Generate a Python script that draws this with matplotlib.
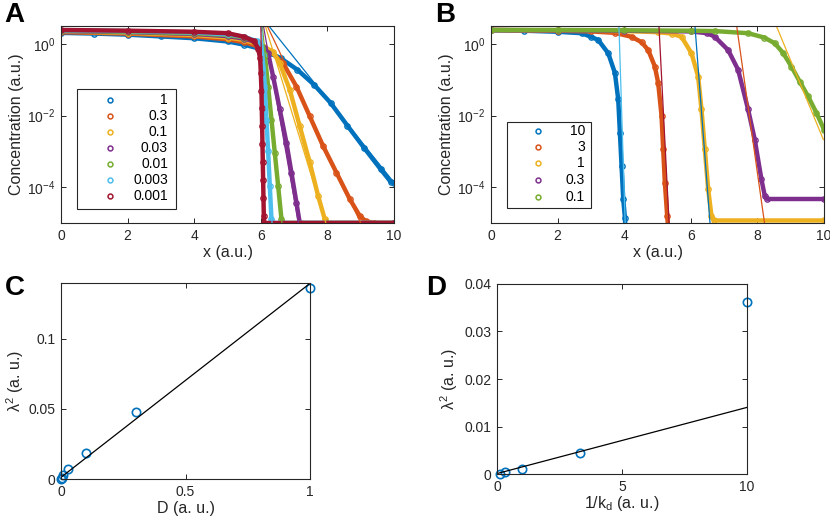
import numpy as np
import matplotlib
matplotlib.use('Agg')
import matplotlib.pyplot as plt
from matplotlib.ticker import NullLocator
from matplotlib.patches import Rectangle

plt.rcParams['font.family'] = ['Liberation Sans', 'DejaVu Sans']
plt.rcParams['mathtext.fontset'] = 'custom'
plt.rcParams['mathtext.rm'] = 'Liberation Sans'
plt.rcParams['mathtext.it'] = 'Liberation Sans:italic'

# colores tipo MATLAB
c_azul = '#0072BD'
c_naranja = '#D95319'
c_amarillo = '#EDB120'
c_morado = '#7E2F8E'
c_verde = '#77AC30'
c_celeste = '#4DBEEE'
c_rojo = '#A2142F'
gris = '#262626'

# ---------------- datos panel A (x, log10 concentracion) ----------------
etiquetasA = ['1', '0.3', '0.1', '0.03', '0.01', '0.003', '0.001']
coloresA = [c_azul, c_naranja, c_amarillo, c_morado, c_verde, c_celeste, c_rojo]

xA1 = [0, 1, 2, 3, 4, 5, 5.5, 6.0, 6.3, 6.6, 7.1, 7.6, 8.1, 8.6, 9.1, 9.6, 9.9, 10]
yA1 = [0.31, 0.29, 0.26, 0.21, 0.16, 0.07, -0.02, -0.14, -0.26, -0.40, -0.72, -1.14,
       -1.65, -2.28, -2.90, -3.50, -3.85, -3.88]
xA2 = [0, 2, 4, 5, 5.5, 5.9, 6.1, 6.27, 6.67, 7.07, 7.47, 7.87, 8.27, 8.67, 8.97, 9.15, 9.4, 10]
yA2 = [0.33, 0.29, 0.21, 0.13, 0.05, -0.06, -0.12, -0.19, -0.54, -1.19, -2.02, -2.85,
       -3.59, -4.33, -4.80, -4.95, -5, -5]
xA3 = [0, 2, 4, 5, 5.5, 5.9, 6.1, 6.37, 6.57, 6.87, 7.17, 7.47, 7.72, 7.92, 8.0, 10]
yA3 = [0.35, 0.31, 0.25, 0.18, 0.11, 0.0, -0.08, -0.22, -0.54, -1.28, -2.30, -3.31,
       -4.24, -4.89, -5, -5]
xA4 = [0, 2, 4, 5, 5.5, 5.9, 6.1, 6.22, 6.37, 6.57, 6.77, 6.92, 7.07, 7.17, 10]
yA4 = [0.36, 0.33, 0.28, 0.22, 0.15, 0.04, -0.10, -0.26, -0.91, -1.83, -2.76, -3.59,
       -4.43, -5, -5]
xA5 = [0, 2, 4, 5, 5.5, 5.9, 6.05, 6.12, 6.22, 6.32, 6.42, 6.52, 6.62, 6.67, 10]
yA5 = [0.37, 0.34, 0.30, 0.25, 0.18, 0.06, -0.10, -0.30, -1.19, -2.11, -3.04, -3.96,
       -4.89, -5, -5]
xA6 = [0, 2, 4, 5, 5.5, 5.9, 6.0, 6.07, 6.12, 6.17, 6.22, 6.27, 6.32, 6.35, 10]
yA6 = [0.38, 0.36, 0.32, 0.27, 0.20, 0.07, -0.05, -0.3, -1.2, -2.11, -3.0, -3.96,
       -4.89, -5, -5]
xA7 = [0, 2, 4, 5, 5.5, 5.8, 5.92, 5.98, 6.0, 6.02, 6.03, 6.04, 6.05, 6.06, 6.07,
       6.08, 6.09, 6.1, 10]
yA7 = [0.39, 0.37, 0.34, 0.30, 0.20, 0.08, -0.13, -0.4, -0.8, -1.3, -1.8, -2.3, -2.8,
       -3.3, -3.8, -4.3, -4.8, -5, -5]

# rectas de ajuste panel A: (x inicio, x fin), (log y inicio, log y fin)
ajA_x = [(6.2, 10), (6.17, 9.05), (6.12, 7.97), (6.07, 7.14), (6.04, 6.64),
         (6.02, 6.34), (6.0, 6.11)]
ajA_y = [(0.55, -3.87), (0.55, -5.1), (0.55, -5.05), (0.55, -5.05), (0.55, -5.05),
         (0.55, -5.05), (0.55, -5.05)]

# ---------------- datos panel B ----------------
etiquetasB = ['10', '3', '1', '0.3', '0.1']
coloresB = [c_azul, c_naranja, c_amarillo, c_morado, c_verde]
coloresAjB = [c_celeste, c_rojo, c_azul, c_naranja, c_amarillo]

xB1 = [0, 1, 2, 2.72, 3.0, 3.22, 3.52, 3.72, 3.82, 3.87, 3.92, 3.97, 4.02, 4.06]
yB1 = [0.38, 0.37, 0.34, 0.30, 0.2, 0.11, -0.26, -0.81, -1.55, -2.48, -3.41, -4.33,
       -4.85, -5.5]
xB2 = [0, 2, 3, 3.72, 4.22, 4.52, 4.72, 4.92, 5.02, 5.12, 5.17, 5.22, 5.29, 5.35]
yB2 = [0.39, 0.37, 0.35, 0.31, 0.20, 0.05, -0.17, -0.63, -1.09, -2.0, -2.94, -3.87,
       -4.8, -5.5]
xB3 = [0, 2, 4, 5, 5.42, 5.72, 6.02, 6.22, 6.32, 6.42, 6.52, 6.62, 6.7, 10]
yB3 = [0.39, 0.38, 0.36, 0.33, 0.29, 0.2, -0.26, -0.91, -1.83, -2.94, -4.05, -4.8,
       -4.93, -4.93]
xB4 = [0, 2, 4, 6, 6.5, 6.72, 7.12, 7.42, 7.72, 7.92, 8.12, 8.22, 8.3, 10]
yB4 = [0.39, 0.38, 0.37, 0.35, 0.30, 0.2, -0.17, -0.72, -1.83, -2.67, -3.78, -4.24,
       -4.33, -4.33]
xB5 = [0, 2, 4, 6, 6.72, 7.72, 8.2, 8.52, 8.77, 9.02, 9.27, 9.52, 9.77, 10]
yB5 = [0.39, 0.39, 0.38, 0.37, 0.36, 0.30, 0.18, 0.02, -0.25, -0.63, -1.05, -1.46,
       -1.92, -2.39]

ajB_x = [(3.84, 4.03), (5.04, 5.35), (6.12, 6.58), (7.37, 8.22), (8.57, 9.98)]
ajB_y = [(0.55, -5.05), (0.55, -5.05), (0.55, -5.05), (0.55, -5.05), (0.5, -2.67)]

# ---------------- datos panel C ----------------
D_vals = [1, 0.3, 0.1, 0.03, 0.01, 0.003, 0.001]
lam2_C = [0.1363, 0.0475, 0.0188, 0.0069, 0.0030, 0.0010, 0.0003]
ajC_x = [0, 1]
ajC_y = [0.0012, 0.1395]

# ---------------- datos panel D ----------------
inv_kd = [10, 3.333, 1, 0.333, 0.1]
lam2_D = [0.0363, 0.00449, 0.00098, 0.00035, 0.0001]
ajD_x = [0, 10]
ajD_y = [0.0001, 0.0140]

fs_tick = 10
fs_lab = 11.5
fs_ley = 10


def EstiloEjes(ax):
    for s in ax.spines.values():
        s.set_color(gris)
        s.set_linewidth(0.8)
    ax.tick_params(direction='in', top=True, right=True, length=3.5, width=0.7,
                   colors=gris, labelsize=fs_tick, labelcolor=gris, pad=4)
    ax.tick_params(which='minor', length=0)


def LeyendaManual(ax, etiquetas, colores, caja, xm, xt, ys):
    rect = Rectangle((caja[0], caja[1]), caja[2] - caja[0], caja[3] - caja[1],
                     transform=ax.transAxes, facecolor='white', edgecolor=gris,
                     lw=0.8, zorder=5)
    ax.add_patch(rect)
    for et, col, yy in zip(etiquetas, colores, ys):
        ax.plot([xm], [yy], 'o', transform=ax.transAxes, color=col, ms=3.5,
                mfc='none', mew=1.1, zorder=6, clip_on=False)
        ax.text(xt, yy, et, transform=ax.transAxes, ha='right', va='center',
                fontsize=fs_ley, color='black', zorder=6)


def PanelPerfil(ax, curvas, colores, colores_aj, aj_x, aj_y):
    for (xx, yy), col in zip(curvas, colores):
        ax.plot(xx, 10 ** np.array(yy), '-o', color=col, lw=3.2, ms=3.8,
                mfc='none', mew=1)
    for xs, ys, col in zip(aj_x, aj_y, colores_aj):
        ax.plot(xs, 10 ** np.array(ys), '-', color=col, lw=0.9)
    ax.set_yscale('log')
    ax.set_xlim(0, 10)
    ax.set_ylim(1e-5, 10 ** 0.5)
    ax.set_xticks([0, 2, 4, 6, 8, 10])
    ax.set_yticks([1e-4, 1e-2, 1])
    ax.set_yticklabels([r'$\mathregular{10^{-4}}$', r'$\mathregular{10^{-2}}$',
                        r'$\mathregular{10^{0}}$'])
    ax.yaxis.set_minor_locator(NullLocator())
    ax.set_xlabel('x (a.u.)', fontsize=fs_lab, color=gris, labelpad=2)
    ax.set_ylabel('Concentration (a.u.)', fontsize=fs_lab, color=gris, labelpad=2)
    EstiloEjes(ax)


fig = plt.figure(figsize=(8.3, 5.21), dpi=100)

axA = fig.add_axes([0.0735, 0.572, 0.4012, 0.378])
axB = fig.add_axes([0.5916, 0.572, 0.4012, 0.378])
axC = fig.add_axes([0.0735, 0.0806, 0.300, 0.3768])
axD = fig.add_axes([0.599, 0.0902, 0.3005, 0.3647])

curvasA = [(xA1, yA1), (xA2, yA2), (xA3, yA3), (xA4, yA4), (xA5, yA5), (xA6, yA6), (xA7, yA7)]
PanelPerfil(axA, curvasA, coloresA, coloresA, ajA_x, ajA_y)
LeyendaManual(axA, etiquetasA, coloresA, (0.048, 0.071, 0.345, 0.680), 0.147, 0.321,
              [0.624, 0.543, 0.461, 0.382, 0.299, 0.218, 0.137])

curvasB = [(xB1, yB1), (xB2, yB2), (xB3, yB3), (xB4, yB4), (xB5, yB5)]
PanelPerfil(axB, curvasB, coloresB, coloresAjB, ajB_x, ajB_y)
LeyendaManual(axB, etiquetasB, coloresB, (0.047, 0.075, 0.300, 0.514), 0.142, 0.282,
              [0.467, 0.387, 0.303, 0.218, 0.134])

# panel C
axC.plot(D_vals, lam2_C, 'o', color=c_azul, ms=6, mfc='none', mew=1.2, clip_on=False)
axC.plot(ajC_x, ajC_y, '-', color='black', lw=0.9)
axC.set_xlim(0, 1)
axC.set_ylim(0, 0.14)
axC.set_xticks([0, 0.5, 1])
axC.set_xticklabels(['0', '0.5', '1'])
axC.set_yticks([0, 0.05, 0.1])
axC.set_yticklabels(['0', '0.05', '0.1'])
axC.set_xlabel('D (a. u.)', fontsize=fs_lab, color=gris, labelpad=2)
axC.set_ylabel(r'$\mathregular{\lambda^2}$ (a. u.)', fontsize=fs_lab, color=gris, labelpad=2)
EstiloEjes(axC)

# panel D
axD.plot(inv_kd, lam2_D, 'o', color=c_azul, ms=6, mfc='none', mew=1.2, clip_on=False)
axD.plot(ajD_x, ajD_y, '-', color='black', lw=0.9)
axD.set_xlim(0, 10)
axD.set_ylim(0, 0.04)
axD.set_xticks([0, 5, 10])
axD.set_yticks([0, 0.01, 0.02, 0.03, 0.04])
axD.set_yticklabels(['0', '0.01', '0.02', '0.03', '0.04'])
axD.set_xlabel(r'1/$\mathregular{k_d}$ (a. u.)', fontsize=fs_lab, color=gris, labelpad=0)
axD.set_ylabel(r'$\mathregular{\lambda^2}$ (a. u.)', fontsize=fs_lab, color=gris, labelpad=3)
EstiloEjes(axD)

# letras de los paneles
for letra, px, py in [('A', 4, 22), ('B', 435, 22), ('C', 5, 295), ('D', 426, 295)]:
    fig.text(px / 830, 1 - py / 521, letra, fontsize=20, fontweight='bold', va='baseline')

plt.savefig('out.png', dpi=100)
